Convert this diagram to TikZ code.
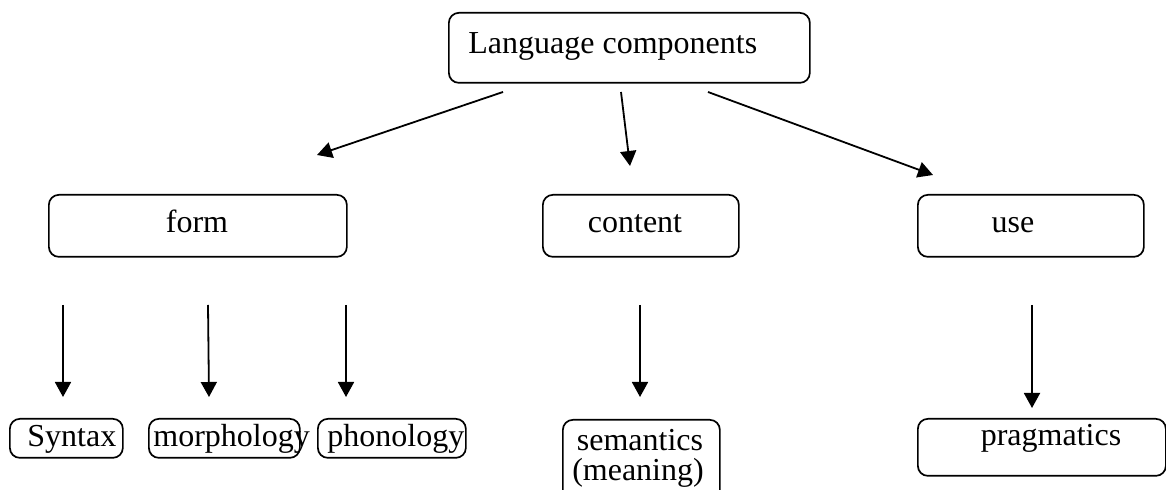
\documentclass[tikz,border=0pt]{standalone}
\usepackage{fontspec}
\setmainfont{Liberation Serif}
\usetikzlibrary{arrows.meta}
\begin{document}
\begin{tikzpicture}[x=0.5pt,y=-0.5pt,
  box/.style={draw, line width=0.85pt, rounded corners=5pt, inner sep=0pt, anchor=north west},
  lbl/.style={inner sep=0pt, font=\fontsize{16}{16}\selectfont},
  arr/.style={line width=0.9pt, -{Triangle[length=7.5pt,width=8pt]}}]
\useasboundingbox (0,0) rectangle (1166,490);
\clip (0,0) rectangle (1166,490);
% boxes
\node[box, minimum width=180.5pt, minimum height=35pt] (top) at (448,12) {};
\node[box, minimum width=149pt, minimum height=31pt] (form) at (48,194) {};
\node[box, minimum width=98pt, minimum height=31pt] (content) at (542,194) {};
\node[box, minimum width=113pt, minimum height=31pt] (use) at (917,194) {};
\node[box, minimum width=56.5pt, minimum height=19.5pt] (syntax) at (9,418) {};
\node[box, minimum width=75.5pt, minimum height=19.5pt] (morph) at (148,418) {};
\node[box, minimum width=74pt, minimum height=19.5pt] (phon) at (317,418) {};
\node[box, minimum width=78.5pt, minimum height=50pt] (sem) at (562,419) {};
\node[box, minimum width=124pt, minimum height=28.5pt] (prag) at (917,418) {};
% texts
\node[lbl, anchor=base west] (ttop) at (468,54) {Language components};
\node[lbl, anchor=base] (tform) at (197,233) {form};
\node[lbl, anchor=base] (tcontent) at (635,233) {content};
\node[lbl, anchor=base] (tuse) at (1013,233) {use};
\node[lbl, anchor=base west] (tsyntax) at (27,447) {Syntax};
\node[lbl, anchor=base west] (tmorph) at (153,447) {morphology};
\node[lbl, anchor=base west] (tphon) at (327,447) {phonology};
\node[lbl, anchor=base] (tsem1) at (640,451) {semantics};
\node[lbl, anchor=base] (tsem2) at (638,481) {(meaning)};
\node[lbl, anchor=base] (tprag) at (1051,446) {pragmatics};
% arrow end points
\coordinate (a1s) at (503,92);  \coordinate (a1e) at (317,155);
\coordinate (a2s) at (621,92);  \coordinate (a2e) at (630,166);
\coordinate (a3s) at (708,92);  \coordinate (a3e) at (933,175);
\coordinate (b1s) at (63,305);  \coordinate (b1e) at (63,397);
\coordinate (b2s) at (208,305); \coordinate (b2e) at (209,397);
\coordinate (b3s) at (346,305); \coordinate (b3e) at (346,397);
\coordinate (b4s) at (640,305); \coordinate (b4e) at (640,397);
\coordinate (b5s) at (1032,305);\coordinate (b5e) at (1032,408);
\draw[arr] (a1s) -- (a1e);
\draw[arr] (a2s) -- (a2e);
\draw[arr] (a3s) -- (a3e);
\draw[arr] (b1s) -- (b1e);
\draw[arr] (b2s) -- (b2e);
\draw[arr] (b3s) -- (b3e);
\draw[arr] (b4s) -- (b4e);
\draw[arr] (b5s) -- (b5e);
\end{tikzpicture}
\end{document}
